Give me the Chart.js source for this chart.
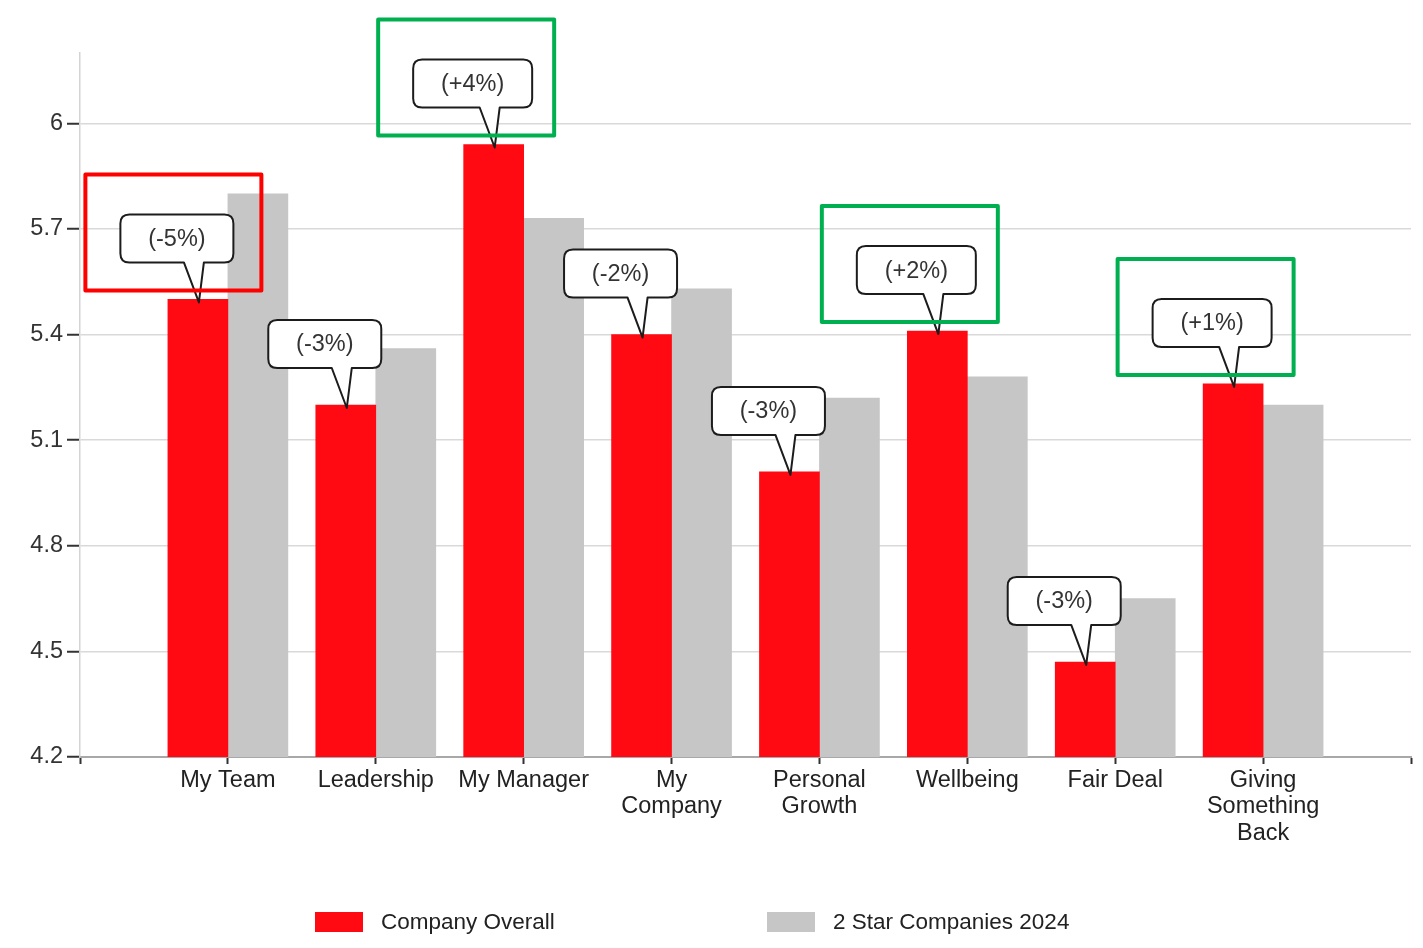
<!DOCTYPE html>
<html>
<head>
<meta charset="utf-8">
<title>Engagement by factor</title>
<script src="https://cdn.jsdelivr.net/npm/chart.js@4/dist/chart.umd.min.js"></script>
<style>
  html, body { margin: 0; padding: 0; background: #fff; }
  #wrap { width: 1423px; height: 948px; }
</style>
</head>
<body>
<div id="wrap"><canvas id="chartContainer"></canvas></div>
<script>
// factor scores
var categories = ['My Team', 'Leadership', 'My Manager', ['My', 'Company'], ['Personal', 'Growth'],
                  'Wellbeing', 'Fair Deal', ['Giving', 'Something', 'Back']];
var companyOverall = [5.50, 5.20, 5.94, 5.40, 5.01, 5.41, 4.47, 5.26];
var twoStar2024 = [5.80, 5.36, 5.73, 5.53, 5.22, 5.28, 4.65, 5.20];
var changePct = [-5, -3, 4, -2, -3, 2, -3, 1];
var flagged = [0, 2, 5, 7];
var yTicks = [4.2, 4.5, 4.8, 5.1, 5.4, 5.7, 6];

var FONT = "Arial, 'Liberation Sans', sans-serif";
var RED = '#ff0a12';
var GREY = '#c6c6c6';

// blank slot either side so the groups sit one step in from the axis ends
var labels = [''].concat(categories, ['']);
function pad(arr) { return [null].concat(arr, [null]); }

function fmtChange(v) {
	return '(' + (v > 0 ? '+' : '') + v + '%)';
}

function roundRectPath(ctx, x, y, w, h, r, tipX, tipY, baseL, baseR) {
	ctx.beginPath();
	ctx.moveTo(x + r, y);
	ctx.lineTo(x + w - r, y);
	ctx.quadraticCurveTo(x + w, y, x + w, y + r);
	ctx.lineTo(x + w, y + h - r);
	ctx.quadraticCurveTo(x + w, y + h, x + w - r, y + h);
	ctx.lineTo(baseR, y + h);
	ctx.lineTo(tipX, tipY);
	ctx.lineTo(baseL, y + h);
	ctx.lineTo(x + r, y + h);
	ctx.quadraticCurveTo(x, y + h, x, y + h - r);
	ctx.lineTo(x, y + r);
	ctx.quadraticCurveTo(x, y, x + r, y);
	ctx.closePath();
}

// speech-bubble callouts with the change vs last year, plus the coloured frames
var callouts = {
	id: 'callouts',
	afterDatasetsDraw: function (chart) {
		var ctx = chart.ctx;
		var meta = chart.getDatasetMeta(0);
		ctx.save();
		ctx.font = '23.5px ' + FONT;
		for (var i = 0; i < categories.length; i++) {
			var bar = meta.data[i + 1];
			var tipX = bar.x + 1, tipY = bar.y + 3;
			var txt = fmtChange(changePct[i]);
			var w = Math.round(ctx.measureText(txt).width) + 56;
			var h = 48;
			var cx = tipX - 22;
			var x = cx - w / 2, y = tipY - 40 - h;

			roundRectPath(ctx, x, y, w, h, 9, tipX, tipY, tipX - 15, tipX + 5);
			ctx.fillStyle = '#fff';
			ctx.fill();
			ctx.lineWidth = 2;
			ctx.strokeStyle = '#1c1c1c';
			ctx.lineJoin = 'round';
			ctx.stroke();

			ctx.fillStyle = '#333';
			ctx.textAlign = 'center';
			ctx.textBaseline = 'middle';
			ctx.fillText(txt, cx, y + h / 2 + 1);

			if (flagged.indexOf(i) >= 0) {
				ctx.lineWidth = 4;
				ctx.strokeStyle = changePct[i] < 0 ? '#ff0000' : '#00b050';
				ctx.strokeRect(x - 35, y - 40, 176, 116);
			}
		}
		ctx.restore();
	},
	afterDraw: function (chart) {
		// legend along the bottom
		var ctx = chart.ctx;
		var items = [
			{ text: chart.data.datasets[0].label, color: RED, x: 315 },
			{ text: chart.data.datasets[1].label, color: GREY, x: 767 }
		];
		ctx.save();
		ctx.font = '22.5px ' + FONT;
		ctx.textAlign = 'left';
		ctx.textBaseline = 'middle';
		items.forEach(function (it) {
			ctx.fillStyle = it.color;
			ctx.fillRect(it.x, 912, 48, 20);
			ctx.fillStyle = '#222';
			ctx.fillText(it.text, it.x + 66, 923);
		});
		ctx.restore();
	}
};

var myChart = document.getElementById('chartContainer').getContext('2d');

var popChart = new Chart(myChart, {
	type: 'bar',
	data: {
		labels: labels,
		datasets: [{
			label: 'Company Overall',
			data: pad(companyOverall),
			backgroundColor: RED
		}, {
			label: '2 Star Companies 2024',
			data: pad(twoStar2024),
			backgroundColor: GREY
		}]
	},
	options: {
		responsive: true,
		maintainAspectRatio: false,
		animation: false,
		barThickness: 60,
		layout: { padding: { top: 53, right: 12, bottom: 71, left: 0 } },
		plugins: {
			legend: { display: false },
			tooltip: { enabled: false }
		},
		scales: {
			x: {
				offset: false,
				afterFit: function (axis) { axis.height = 120; },
				grid: {
					offset: false,
					drawOnChartArea: false,
					tickLength: 7,
					tickColor: '#333',
					tickWidth: 2
				},
				border: { color: '#a8a8a8', width: 2 },
				ticks: {
					autoSkip: false,
					maxRotation: 0,
					padding: 3,
					color: '#222',
					font: { family: FONT, size: 23.5, lineHeight: 1.13 }
				}
			},
			y: {
				min: 4.2,
				max: 6.2,
				afterFit: function (axis) { axis.width = 80; },
				afterBuildTicks: function (axis) {
					axis.ticks = yTicks.map(function (v) { return { value: v }; });
				},
				grid: {
					color: '#d9d9d9',
					lineWidth: 1.5,
					tickLength: 13,
					tickColor: '#333',
					tickWidth: 2
				},
				border: { color: '#d4d4d4', width: 1.5 },
				ticks: {
					padding: 4,
					color: '#333',
					font: { family: FONT, size: 23.5 },
					callback: function (v) { return String(v); }
				}
			}
		}
	},
	plugins: [callouts]
});
</script>
</body>
</html>
